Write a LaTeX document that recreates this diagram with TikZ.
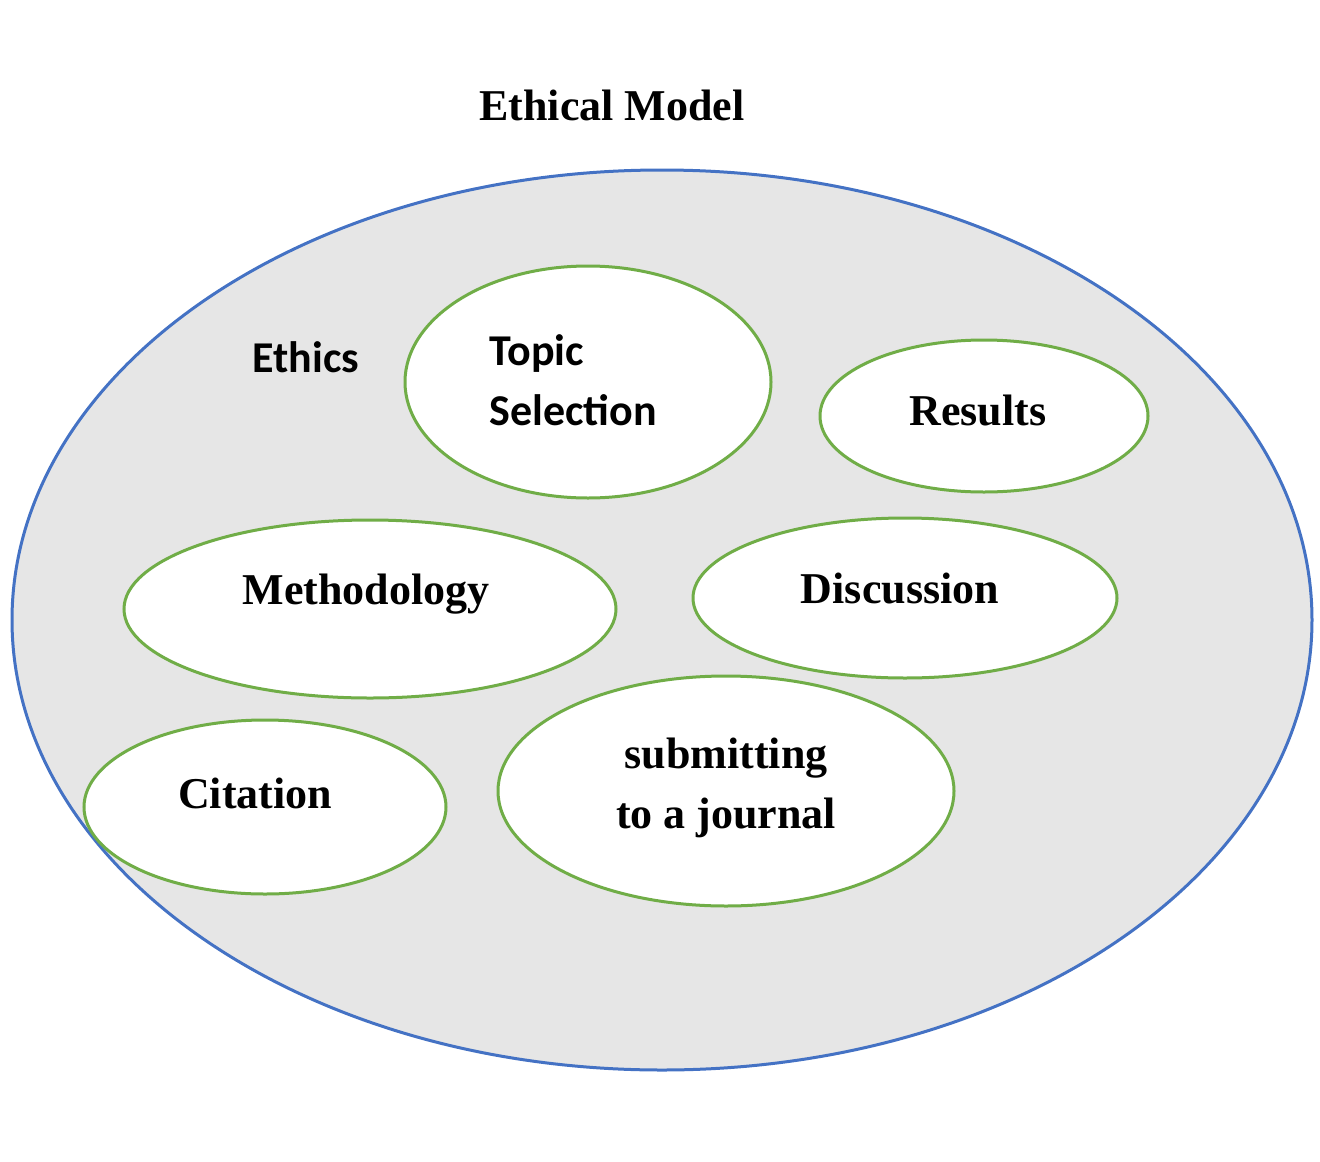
\documentclass[tikz,border=0pt]{standalone}
\usepackage{fontspec}
\setmainfont{Liberation Serif}
\newfontfamily\carl{Carlito}
\definecolor{eblue}{HTML}{4472C4}
\definecolor{egreen}{HTML}{70AD47}
\definecolor{egray}{HTML}{E6E6E6}
\begin{document}
\begin{tikzpicture}[x=1pt,y=-1pt,
  bubble/.style={draw=egreen,line width=3pt,fill=white},
  lbl/.style={font=\fontsize{44}{60}\selectfont\bfseries,align=center},
  slbl/.style={font=\carl\fontsize{44}{60}\selectfont\bfseries,align=left}]
\useasboundingbox (0,0) rectangle (1320,1162);
\draw[draw=eblue,line width=3pt,fill=egray] (662,620) ellipse [x radius=650,y radius=450];
\node[lbl] (title) at (612,105) {Ethical Model};
\node[slbl] (ethics) at (306,357) {Ethics};
\draw[bubble] (588,382) ellipse [x radius=183,y radius=116];
\node[slbl,anchor=west] (topic) at (486,380) {Topic\\Selection};
\draw[bubble] (984,416) ellipse [x radius=164,y radius=76];
\node[lbl] (results) at (978,410) {Results};
\draw[bubble] (370,609) ellipse [x radius=246,y radius=89];
\node[lbl] (meth) at (366,594) {Methodology};
\draw[bubble] (905,598) ellipse [x radius=212,y radius=80];
\node[lbl] (disc) at (900,588) {Discussion};
\draw[bubble] (265,807) ellipse [x radius=181,y radius=87];
\node[lbl] (cit) at (255,793) {Citation};
\draw[bubble] (726,791) ellipse [x radius=228,y radius=115];
\node[lbl] (sub) at (726,788) {submitting\\to a journal};
\end{tikzpicture}
\end{document}
